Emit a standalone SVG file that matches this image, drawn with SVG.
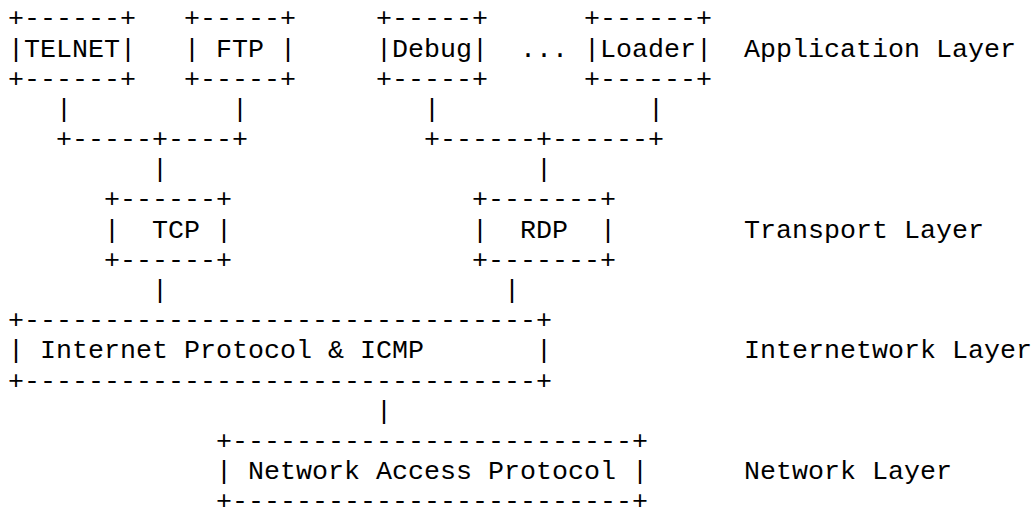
<svg xmlns="http://www.w3.org/2000/svg" width="1036" height="507" viewBox="0 0 1036 507">
<style>
text { font-family: "Courier New", "Liberation Mono", monospace; font-size: 26.667px; fill: #000; white-space: pre; }
</style>
<rect width="1036" height="507" fill="#fff"/>
<g id="telnet">
<text x="8" y="26.3">+------+</text>
<text x="8" y="56.5">|TELNET|</text>
<text x="8" y="86.7">+------+</text>
</g>
<g id="ftp">
<text x="184" y="26.3">+-----+</text>
<text x="184" y="56.5" xml:space="preserve">| FTP |</text>
<text x="184" y="86.7">+-----+</text>
</g>
<g id="debug">
<text x="376" y="26.3">+-----+</text>
<text x="376" y="56.5">|Debug|</text>
<text x="376" y="86.7">+-----+</text>
</g>
<g id="ellipsis">
<text x="520" y="56.5">...</text>
</g>
<g id="loader">
<text x="584" y="26.3">+------+</text>
<text x="584" y="56.5">|Loader|</text>
<text x="584" y="86.7">+------+</text>
</g>
<g id="tcp">
<text x="104" y="207.4">+------+</text>
<text x="104" y="237.6" xml:space="preserve">|  TCP |</text>
<text x="104" y="267.7">+------+</text>
</g>
<g id="rdp">
<text x="472" y="207.4">+-------+</text>
<text x="472" y="237.6" xml:space="preserve">|  RDP  |</text>
<text x="472" y="267.7">+-------+</text>
</g>
<g id="ip">
<text x="8" y="328.1">+--------------------------------+</text>
<text x="8" y="358.3" xml:space="preserve">| Internet Protocol &amp; ICMP       |</text>
<text x="8" y="388.5">+--------------------------------+</text>
</g>
<g id="nap">
<text x="216" y="448.8">+-------------------------+</text>
<text x="216" y="479.0" xml:space="preserve">| Network Access Protocol |</text>
<text x="216" y="509.2">+-------------------------+</text>
</g>
<g id="connectors">
<text x="56" y="116.8">|</text>
<text x="232" y="116.8">|</text>
<text x="424" y="116.8">|</text>
<text x="648" y="116.8">|</text>
<text x="56" y="147.0">+-----+----+</text>
<text x="424" y="147.0">+------+------+</text>
<text x="152" y="177.2">|</text>
<text x="536" y="177.2">|</text>
<text x="152" y="297.9">|</text>
<text x="504" y="297.9">|</text>
<text x="376" y="418.6">|</text>
</g>
<g id="layer-labels">
<text x="744" y="56.5">Application Layer</text>
<text x="744" y="237.6">Transport Layer</text>
<text x="744" y="358.3">Internetwork Layer</text>
<text x="744" y="479.0">Network Layer</text>
</g>
</svg>
